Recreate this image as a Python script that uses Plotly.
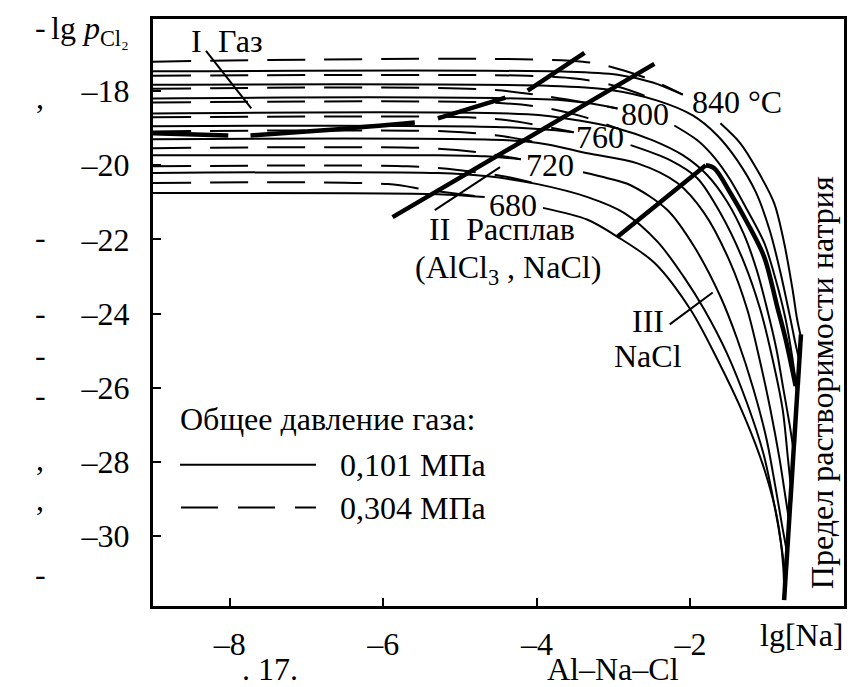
import plotly.graph_objects as go

FONT = "Liberation Serif, Times New Roman, DejaVu Serif, serif"
FS = 32

# ---- digitized data: x = lg[Na], y = lg p(Cl2) ----
# 0.101 MPa (solid) isotherms; None = gap where the temperature label sits
S840_X = [-9.00, -3.60, -2.95, -2.49, -2.10, None, -1.61, -1.35, -1.13, -0.91, -0.78, -0.67, -0.61, -0.56]
S840_Y = [-17.47, -17.48, -17.56, -17.77, -18.10, None, -18.87, -19.41, -20.13, -21.02, -22.09, -23.35, -24.16, -24.64]
S820_X = [-9.00, -3.86, -3.08, -2.43, -1.97, -1.65, -1.39, -1.15, -0.97, -0.83, -0.71, -0.63, -0.58]
S820_Y = [-17.83, -17.86, -17.96, -18.26, -18.66, -19.20, -19.87, -20.72, -21.74, -22.87, -24.02, -24.83, -25.28]
S800_X = [-9.00, -3.60, -2.95, None, -2.21, -1.91, -1.69, -1.48, -1.26, -1.04, -0.89, -0.76, -0.67, -0.61]
S800_Y = [-18.20, -18.26, -18.47, None, -18.93, -19.33, -19.79, -20.40, -21.21, -22.09, -23.08, -24.16, -25.23, -26.17]
S780_X = [-9.00, -4.12, -3.47, -2.95, -2.49, -2.10, -1.78, -1.52, -1.30, -1.13, -1.00, -0.88, -0.79, -0.71, -0.66]
S780_Y = [-18.61, -18.63, -18.79, -19.01, -19.33, -19.73, -20.27, -20.99, -21.88, -22.87, -23.89, -24.96, -26.03, -26.97, -27.64]
S760_X = [-9.00, -4.38, -3.52, None, -2.78, -2.26, -1.91, -1.61, -1.30, -1.09, -0.93, -0.80, -0.73, -0.69]
S760_Y = [-18.95, -18.98, -19.11, None, -19.46, -19.87, -20.35, -21.29, -22.63, -23.89, -25.23, -26.57, -27.91, -28.71]
S740_X = [-9.00, -4.38, -3.86, -3.34, -2.69, -2.17, -1.82, -1.48, -1.26, -1.10, -0.96, -0.84, -0.76, -0.71]
S740_Y = [-19.30, -19.33, -19.44, -19.68, -19.95, -20.48, -21.29, -22.63, -23.89, -25.23, -26.57, -27.91, -28.98, -29.65]
S720_X = [-9.00, -5.29, -4.68, -4.21, None, -3.40, -3.08, -2.78, -2.30, -1.95, -1.61, -1.39, -1.18, -1.01, -0.89, -0.80, -0.74]
S720_Y = [-19.73, -19.73, -19.76, -19.84, None, -20.19, -20.35, -20.54, -21.21, -22.20, -23.54, -24.69, -26.03, -27.37, -28.71, -29.79, -30.46]
S700_X = [-9.00, -5.29, -4.64, -3.99, -3.34, -2.86, -2.43, -2.08, -1.82, -1.52, -1.26, -1.05, -0.91, -0.82, -0.76]
S700_Y = [-20.21, -20.21, -20.30, -20.51, -20.86, -21.29, -22.06, -23.03, -23.89, -25.09, -26.43, -27.77, -29.12, -30.19, -31.13]
S680_X = [-9.00, -5.29, -4.68, None, -3.92, -3.34, -2.95, -2.47, -2.00, -1.65, -1.30, -1.04, -0.87, -0.79, -0.78]
S680_Y = [-20.75, -20.78, -20.86, None, -21.15, -21.47, -21.93, -22.63, -23.89, -25.23, -26.76, -28.18, -29.52, -30.86, -31.72]

# 0.304 MPa (dashed) isotherms, gas region
D840_X = [-9.00, -3.40, -2.95, -2.49, -2.10]
D840_Y = [-17.21, -17.21, -17.40, -17.72, -18.10]
D820_X = [-9.00, -4.12, -3.47, -2.95, -2.43]
D820_Y = [-17.59, -17.59, -17.67, -17.88, -18.26]
D800_X = [-9.00, -4.64, -3.86, -2.95]
D800_Y = [-17.94, -17.96, -18.15, -18.47]
D780_X = [-9.00, -4.64, -3.99, -3.40, -2.95]
D780_Y = [-18.31, -18.31, -18.42, -18.69, -19.01]
D760_X = [-9.00, -4.90, -4.38, -3.52]
D760_Y = [-18.71, -18.71, -18.79, -19.11]
D740_X = [-9.00, -5.16, -4.51, -3.86]
D740_Y = [-19.09, -19.09, -19.20, -19.44]
D720_X = [-9.00, -5.42, -4.77, -4.21]
D720_Y = [-19.54, -19.54, -19.65, -19.84]
D700_X = [-9.00, -5.68, -5.03, -4.38, -3.99]
D700_Y = [-20.03, -20.03, -20.13, -20.32, -20.51]
D680_X = [-9.00, -5.94, -5.42, -4.68]
D680_Y = [-20.48, -20.51, -20.67, -20.86]

# phase boundaries (thick)
GAS_MELT_01_X = [-5.88, -2.47]
GAS_MELT_01_Y = [-21.40, -17.27]
GAS_MELT_03_X = [-9.00, -8.02, None, -7.73, -6.59, -5.59, None, -5.29, -4.41, None, -4.12, -3.38]
GAS_MELT_03_Y = [-19.14, -19.20, None, -19.20, -19.03, -18.85, None, -18.74, -18.18, None, -17.99, -16.97]
MELT_NACL_X = [-2.95, -1.80]
MELT_NACL_Y = [-21.93, -20.00]
MELT_NACL2_X = [-1.80, -1.69, -1.48, -1.26, -1.04, -0.87, -0.76, -0.63]
MELT_NACL2_Y = [-20.00, -20.08, -20.75, -21.55, -22.47, -23.81, -24.69, -25.95]
SOLUB_X = [-0.56, -0.78]
SOLUB_Y = [-24.56, -31.72]

# leader lines
LEAD_I_X = [-8.31, -7.72]
LEAD_I_Y = [-16.92, -18.47]
LEAD_II_X = [-5.33, -4.48]
LEAD_II_Y = [-21.21, -20.05]
LEAD_III_X = [-2.27, -1.71]
LEAD_III_Y = [-24.29, -23.43]

X_TICKS = [-8, -6, -4, -2]
Y_TICKS = [-30, -28, -26, -24, -22, -20, -18]

# temperature labels: (text, x, y)
T_LABELS = [("840 °C", -1.39, -18.31), ("800", -2.59, -18.63), ("760", -3.18, -19.25),
            ("720", -3.83, -20.00), ("680", -4.31, -21.07)]

solid = [(S840_X, S840_Y), (S820_X, S820_Y), (S800_X, S800_Y), (S780_X, S780_Y), (S760_X, S760_Y),
         (S740_X, S740_Y), (S720_X, S720_Y), (S700_X, S700_Y), (S680_X, S680_Y)]
dashed = [(D840_X, D840_Y), (D820_X, D820_Y), (D800_X, D800_Y), (D780_X, D780_Y), (D760_X, D760_Y),
          (D740_X, D740_Y), (D720_X, D720_Y), (D700_X, D700_Y), (D680_X, D680_Y)]

DASH = "38px,19px"
fig = go.Figure()

def add(x, y, width=2, dash="solid", shape="spline"):
    fig.add_trace(go.Scatter(x=x, y=y, mode="lines", hoverinfo="skip",
                             line=dict(color="black", width=width, dash=dash, shape=shape, smoothing=0.9)))

for x, y in solid:
    add(x, y)
for x, y in dashed:
    add(x, y, dash=DASH)

add(GAS_MELT_01_X, GAS_MELT_01_Y, width=4.5, shape="linear")
add(GAS_MELT_03_X, GAS_MELT_03_Y, width=4.5)
add(MELT_NACL_X, MELT_NACL_Y, width=4.5, shape="linear")
add(MELT_NACL2_X, MELT_NACL2_Y, width=4.5)
add(SOLUB_X, SOLUB_Y, width=4.5, shape="linear")
add(LEAD_I_X, LEAD_I_Y, width=2, shape="linear")
add(LEAD_II_X, LEAD_II_Y, width=2, shape="linear")
add(LEAD_III_X, LEAD_III_Y, width=2, shape="linear")

# pixel -> paper helpers for layout items outside data
L, R, T, B = 145, 836, 8, 598
def px(xp):
    return (xp - L) / (R - L)
def py(yp):
    return (B - yp) / (B - T)

ann = []
def text(t, x, y, xref="x", yref="y", xanchor="center", yanchor="middle", size=FS, angle=0):
    ann.append(dict(text=t, x=x, y=y, xref=xref, yref=yref, xanchor=xanchor, yanchor=yanchor,
                    showarrow=False, textangle=angle, font=dict(family=FONT, size=size, color="black")))

for t, x, y in T_LABELS:
    text(t, x, y)

text("I", -8.44, -16.66)
text("Газ", -7.86, -16.66)
text("II  Расплав", -4.46, -21.72)
text("(AlCl<sub>3</sub> , NaCl)", -4.38, -22.82)
text("III", -2.55, -24.21)
text("NaCl", -2.55, -25.15)
text("Предел растворимости натрия", px(814), py(374), "paper", "paper", angle=-90)
text("Общее давление газа:", px(170), py(410), "paper", "paper", xanchor="left")
text("0,101 МПа", px(330), py(456), "paper", "paper", xanchor="left")
text("0,304 МПа", px(330), py(499), "paper", "paper", xanchor="left")
text("lg <i>p</i><sub>Cl₂</sub>", px(82), py(20), "paper", "paper")
text("lg[Na]", px(838), py(627), "paper", "paper", xanchor="right")
text(". 17.", px(262), py(681), "paper", "paper", yanchor="bottom")
text("Al–Na–Cl", px(605), py(681), "paper", "paper", yanchor="bottom")
for m, yp in [("-", 16), (",", 86), ("-", 227), ("-", 303), ("-", 346), ("-", 386), (",", 450), (",", 490), ("-", 566)]:
    text(m, px(32), py(yp), "paper", "paper")

shapes = [
    dict(type="line", xref="paper", yref="paper", x0=px(172), x1=px(308), y0=py(456), y1=py(456),
         line=dict(color="black", width=2)),
    dict(type="line", xref="paper", yref="paper", x0=px(173), x1=px(308), y0=py(499), y1=py(499),
         line=dict(color="black", width=2, dash="37px,20px")),
]

axis_common = dict(showgrid=False, zeroline=False, showline=True, linewidth=3, linecolor="black",
                   mirror=True, ticks="inside", ticklen=8, tickwidth=2, tickcolor="black",
                   tickfont=dict(family=FONT, size=FS, color="black"))
fig.update_layout(
    width=855, height=687, margin=dict(l=L, r=855 - R, t=T, b=687 - B),
    paper_bgcolor="white", plot_bgcolor="white", showlegend=False,
    xaxis=dict(range=[-9, 0], tickvals=X_TICKS, ticktext=["–" + str(-v) for v in X_TICKS],
               ticklabelstandoff=8, **axis_common),
    yaxis=dict(range=[-31.88, -16.06], tickvals=Y_TICKS, ticktext=["–" + str(-v) for v in Y_TICKS],
               ticklabelstandoff=14, **axis_common),
    annotations=ann, shapes=shapes,
)
fig.write_html("out.html")
